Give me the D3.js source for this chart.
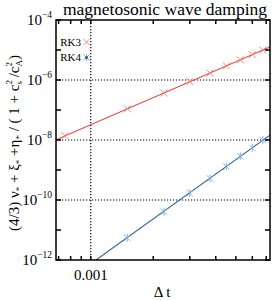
<!DOCTYPE html>
<html>
<head>
<meta charset="utf-8">
<script src="https://cdn.jsdelivr.net/npm/d3@7"></script>
<style>
    body { margin: 0; background: #fff; }
    text { font-family: "Liberation Serif", "DejaVu Serif", serif; fill: #000; }
</style>
</head>
<body>
<svg id="chart" width="274" height="300"></svg>
<script>
// time steps (multiples of 0.00075)
const dtRK3 = [0.00075, 0.0015, 0.00225, 0.003, 0.00375, 0.0045, 0.00525, 0.006, 0.00675]
const dampRK3 = [1.4e-8, 1.1e-7, 3.7e-7, 8.8e-7, 1.7e-6, 2.95e-6, 4.7e-6, 7.0e-6, 1.0e-5]
const dtRK4 = [0.0015, 0.00225, 0.003, 0.00375, 0.0045, 0.00525, 0.006, 0.00675]
const dampRK4 = [5.5e-12, 4.1e-11, 1.7e-10, 5.2e-10, 1.3e-9, 2.85e-9, 5.5e-9, 1.0e-8]

// fitted power laws drawn as straight lines: [dt, value] at the ends
const fitRK3 = [[0.00068, 1.02e-8], [0.0073, 1.27e-5]]
const fitRK4 = [[0.00106, 1.0e-12], [0.0073, 1.45e-8]]

const xMinorTicks = [0.0007, 0.0008, 0.0009, 0.002, 0.003, 0.004, 0.005, 0.006, 0.007]
const xMajorTicks = [0.001]
const yExponents = [-12, -11, -10, -9, -8, -7, -6, -5, -4]
const yLabelExponents = [-12, -10, -8, -6, -4]
const yGridExponents = [-10, -8, -6]

const red = '#e8403a'
const redMarker = '#f07a72'
const blue = '#2f6499'
const blueMarker = '#7aaad6'

const margin = { left: 56, right: 4, top: 20, bottom: 40 }
const width = 274 - margin.left - margin.right
const height = 300 - margin.top - margin.bottom

const svg = d3.select('#chart')
const chart = svg.append('g').attr('transform', `translate(${margin.left}, ${margin.top})`)

const x = d3.scaleLog().domain([0.00068, 0.0073]).range([0, width])
const y = d3.scaleLog().domain([1e-12, 1e-4]).range([height, 0])

chart.append('clipPath').attr('id', 'clip')
    .append('rect').attr('width', width).attr('height', height)

// dotted grid
const grid = chart.append('g')
    .attr('stroke', '#000').attr('stroke-width', 1.2).attr('stroke-dasharray', '1.2,1.8')
grid.selectAll('.hgrid').data(yGridExponents).join('line')
    .attr('x1', 0).attr('x2', width)
    .attr('y1', d => y(Math.pow(10, d))).attr('y2', d => y(Math.pow(10, d)))
grid.selectAll('.vgrid').data(xMajorTicks).join('line')
    .attr('y1', 0).attr('y2', height)
    .attr('x1', d => x(d)).attr('x2', d => x(d))

// fit lines
const line = d3.line().x(d => x(d[0])).y(d => y(d[1]))
const lines = chart.append('g').attr('clip-path', 'url(#clip)').attr('fill', 'none').attr('stroke-width', 1.1)
lines.append('path').attr('d', line(fitRK3)).attr('stroke', red)
lines.append('path').attr('d', line(fitRK4)).attr('stroke', blue)

// markers
const cross = (g, s) => g.append('path').attr('d', `M${-s},${-s}L${s},${s}M${-s},${s}L${s},${-s}`)
const star = (g, s) => {
    g.append('path').attr('d', `M${-s},${-s}L${s},${s}M${-s},${s}L${s},${-s}M0,${-s * 1.2}L0,${s * 1.2}`)
}

chart.append('g').selectAll('g').data(d3.zip(dtRK3, dampRK3)).join('g')
    .attr('transform', d => `translate(${x(d[0])}, ${y(d[1])})`)
    .attr('stroke', redMarker).attr('stroke-width', 0.9)
    .each(function () { cross(d3.select(this), 3.5) })

chart.append('g').selectAll('g').data(d3.zip(dtRK4, dampRK4)).join('g')
    .attr('transform', d => `translate(${x(d[0])}, ${y(d[1])})`)
    .attr('stroke', blueMarker).attr('stroke-width', 0.9)
    .each(function () { star(d3.select(this), 3.3) })

// frame and ticks
chart.append('rect').attr('width', width).attr('height', height)
    .attr('fill', 'none').attr('stroke', '#000').attr('stroke-width', 1.5)

const ticks = chart.append('g').attr('stroke', '#000').attr('stroke-width', 1.5)
const tickLen = 4
ticks.selectAll('.xb').data(xMinorTicks.concat(xMajorTicks)).join('line')
    .attr('x1', d => x(d)).attr('x2', d => x(d)).attr('y1', height).attr('y2', height - tickLen)
ticks.selectAll('.xt').data(xMinorTicks.concat(xMajorTicks)).join('line')
    .attr('x1', d => x(d)).attr('x2', d => x(d)).attr('y1', 0).attr('y2', tickLen)
ticks.selectAll('.yl').data(yExponents).join('line')
    .attr('y1', d => y(Math.pow(10, d))).attr('y2', d => y(Math.pow(10, d))).attr('x1', 0).attr('x2', tickLen + 1)
ticks.selectAll('.yr').data(yExponents).join('line')
    .attr('y1', d => y(Math.pow(10, d))).attr('y2', d => y(Math.pow(10, d))).attr('x1', width).attr('x2', width - tickLen - 1)

// tick labels
const yLabels = chart.append('g').style('font-size', '15px').attr('text-anchor', 'end')
yLabelExponents.forEach(e => {
    const t = yLabels.append('text').attr('x', -4).attr('y', y(Math.pow(10, e)) + 5)
    t.append('tspan').text('10')
    t.append('tspan').attr('dy', -7).style('font-size', '9.5px').text('\u2212' + (-e))
})

chart.append('g').style('font-size', '15px').attr('text-anchor', 'middle')
    .selectAll('text').data(xMajorTicks).join('text')
    .attr('x', d => x(d)).attr('y', height + 20).text(d => d3.format('.3f')(d))

// titles
svg.append('text').attr('x', margin.left + width / 2 + 2).attr('y', 15)
    .attr('text-anchor', 'middle').style('font-size', '17.5px').text('magnetosonic wave damping')

svg.append('text').attr('x', margin.left + width / 2 - 1).attr('y', 297)
    .attr('text-anchor', 'middle').style('font-size', '15px').text('\u0394 t')

const yTitle = svg.append('text')
    .attr('transform', `translate(19, ${margin.top + height / 2 + 3}) rotate(-90)`)
    .attr('text-anchor', 'middle').style('font-size', '15px')
const part = (txt, opt = {}) => {
    const s = yTitle.append('tspan').text(txt)
    if (opt.dy) s.attr('dy', opt.dy)
    if (opt.dx) s.attr('dx', opt.dx)
    if (opt.small) s.style('font-size', '9px')
    return s
}
part('(4/3) \u03bd')
part('*', { dy: 3, small: true })
part(' + \u03be', { dy: -3 })
part('*', { dy: 3, small: true })
part(' +\u03b7', { dy: -3 })
part('*', { dy: 3, small: true })
part(' / ( 1 + c', { dy: -3 })
part('2', { dy: -7, small: true })
part('s', { dy: 10, dx: -4.5, small: true })
part(' /c', { dy: -3 })
part('2', { dy: -7, small: true })
part('A', { dy: 10, dx: -4.5, small: true })
part(')', { dy: -3 })

// legend
const legend = svg.append('g').style('font-size', '11px')
legend.append('text').attr('x', 81).attr('y', 46).attr('text-anchor', 'end').text('RK3')
legend.append('text').attr('x', 81).attr('y', 61).attr('text-anchor', 'end').text('RK4')
cross(legend.append('g').attr('transform', 'translate(86.5, 42)').attr('stroke', redMarker).attr('stroke-width', 0.9), 3)
const lg4 = legend.append('g').attr('transform', 'translate(86.5, 57.5)').attr('stroke', blueMarker).attr('stroke-width', 0.9)
star(lg4, 3)
lg4.append('circle').attr('r', 1.6).attr('fill', blue).attr('stroke', 'none')
</script>
</body>
</html>
